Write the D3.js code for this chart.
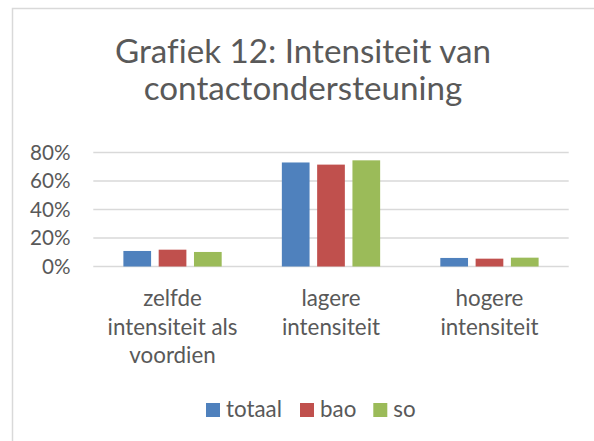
<!DOCTYPE html>
<html><head><meta charset="utf-8">
<script src="https://cdn.jsdelivr.net/npm/d3@7"></script>
<style>html,body{margin:0;padding:0;background:#fff}svg{display:block}text{font-variant-ligatures:none;font-feature-settings:"liga" 0}</style>
</head><body>
<svg id="c" width="594" height="441"></svg>
<script>
const titleLines = ["Grafiek 12: Intensiteit van", "contactondersteuning"];
const categories = ["zelfde intensiteit als voordien", "lagere intensiteit", "hogere intensiteit"];
const categoryLines = [["zelfde", "intensiteit als", "voordien"], ["lagere", "intensiteit"], ["hogere", "intensiteit"]];
const series = ["totaal", "bao", "so"];
const totaal = [0.109, 0.730, 0.060];
const bao = [0.118, 0.715, 0.055];
const so = [0.102, 0.745, 0.062];
const yTicks = [0, 0.2, 0.4, 0.6, 0.8];
const colors = ["#4F81BD", "#C0504D", "#9BBB59"];

const values = [totaal, bao, so];
const font = "Lato, Open Sans, sans-serif";
const textColor = "#595959";
const svg = d3.select("#c");

svg.append("rect").attr("x", 12.5).attr("y", 8.5).attr("width", 600).attr("height", 460)
  .attr("fill", "#fff").attr("stroke", "#d9d9d9").attr("stroke-width", 1.5);

function fit(sel, target) {
  const n = sel.node();
  const fs = parseFloat(sel.attr("font-size"));
  const w = n.getComputedTextLength();
  sel.attr("font-size", (fs * target / w).toFixed(2));
}

// title
const t1 = svg.append("text").attr("x", 303).attr("y", 63).attr("text-anchor", "middle")
  .attr("font-family", font).attr("font-size", 26).attr("fill", textColor).text(titleLines[0]);
fit(t1, 376);
const tfs = t1.attr("font-size");
svg.append("text").attr("x", 303).attr("y", 100).attr("text-anchor", "middle")
  .attr("font-family", font).attr("font-size", tfs).attr("fill", textColor).text(titleLines[1]);

const y = d3.scaleLinear().domain([0, 0.8]).range([266.5, 152.5]);
const x0 = d3.scaleBand().domain(categories).range([93.3, 568.7]);
const groupW = 98.3;
const x1 = d3.scaleBand().domain(series).range([(x0.bandwidth() - groupW) / 2, (x0.bandwidth() + groupW) / 2]).paddingInner(0.215);

// gridlines
svg.append("g").selectAll("line").data(yTicks).join("line")
  .attr("x1", 93.3).attr("x2", 568.7)
  .attr("y1", d => y(d)).attr("y2", d => y(d))
  .attr("stroke", "#d9d9d9").attr("stroke-width", 1.5);

// y axis labels
const yl = svg.append("g").selectAll("text").data(yTicks).join("text")
  .attr("x", 70.5).attr("y", d => y(d)).attr("dy", "0.35em").attr("text-anchor", "end")
  .attr("font-family", font).attr("font-size", 16).attr("fill", textColor)
  .text(d => d3.format(".0%")(d));
fit(d3.select(yl.nodes()[4]), 40.5);
yl.attr("font-size", d3.select(yl.nodes()[4]).attr("font-size"));

// bars
const g = svg.append("g");
categories.forEach((c, ci) => {
  g.selectAll(null).data(series).join("rect")
    .attr("x", s => x0(c) + x1(s))
    .attr("width", x1.bandwidth())
    .attr("y", (s, si) => y(values[si][ci]))
    .attr("height", (s, si) => y(0) - y(values[si][ci]))
    .attr("fill", (s, si) => colors[si]);
});

// category labels
const probe = svg.append("text").attr("font-family", font).attr("font-size", 16).text("intensiteit als");
fit(probe, 130);
const cfs = probe.attr("font-size");
probe.remove();
categories.forEach((c, ci) => {
  const cx = x0(c) + x0.bandwidth() / 2;
  categoryLines[ci].forEach((line, li) => {
    svg.append("text").attr("x", cx).attr("y", 306 + li * 28.7).attr("text-anchor", "middle")
      .attr("font-family", font).attr("font-size", cfs).attr("fill", textColor).text(line);
  });
});

// legend
const lg = svg.append("g");
const legX = [206, 300, 373.3];
series.forEach((s, si) => {
  lg.append("rect").attr("x", legX[si]).attr("y", 403).attr("width", 14).attr("height", 14).attr("fill", colors[si]);
  lg.append("text").attr("x", legX[si] + 20).attr("y", 416.5)
    .attr("font-family", font).attr("font-size", cfs).attr("fill", textColor).text(s);
});
</script>
</body></html>
